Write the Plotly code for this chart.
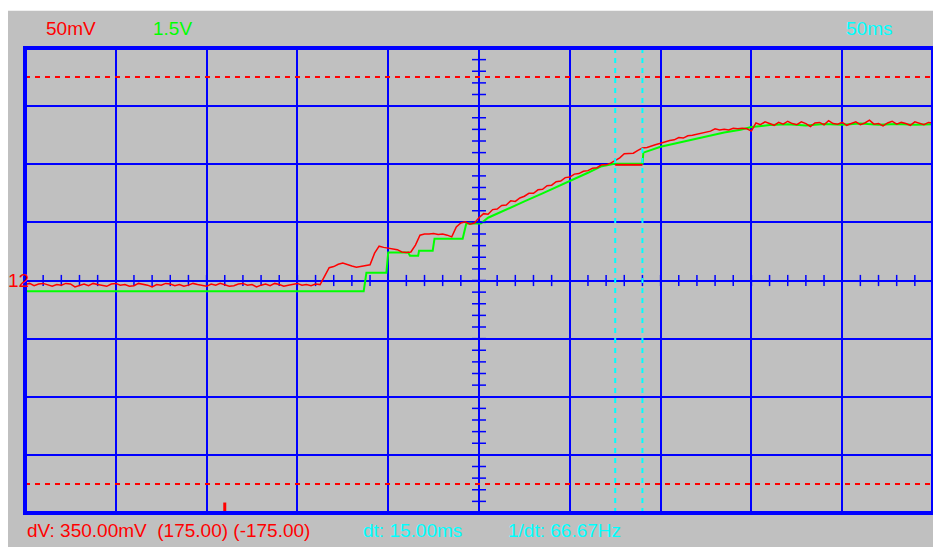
import plotly.graph_objects as go

# ---------------------------------------------------------------------------
# Valori letti dallo schermo dell'oscilloscopio
# ---------------------------------------------------------------------------

time_per_div_ms = 50          # 10 divisioni orizzontali
ch1_mv_per_div = 50           # canale rosso
ch2_v_per_div = 1.5           # canale verde

# canale 1 (rosso), un campione ogni 2.5 ms (righe da 25 ms)
ch1_mv = [
    -3.5, -2.5, -4.5, -3, -2.5, -4, -5, -3.5, -4, -2.5,
    -3, -5.5, -4, -3, -4.5, -2.5, -3.5, -4.5, -5, -3,
    -2.5, -4, -3.5, -5, -4.5, -2.5, -3, -4, -5.5, -3.5,
    -4, -2.5, -3, -4.5, -3.5, -5, -4, -2.5, -3.5, -4.5,
    -5, -3, -4, -2.5, -3.5, -5, -4.5, -3, -2.5, -4,
    -3.5, -5.5, -4, -3, -4.5, -2.5, -3.5, -5, -4, -3,
    -2.5, -4, -3.5, -4.5, -3, -3.5, 4, 11, 12, 14,
    15, 13.5, 12.5, 11.5, 12, 12.5, 13.5, 23.5, 29.5, 28.5,
    28, 27, 26.5, 24.5, 24, 24.5, 30.5, 39, 40, 40,
    40.5, 39.5, 40, 39, 37.5, 46, 49.5, 50.5, 48.5, 49.5,
    54, 57.5, 57, 61, 61.5, 64.5, 65, 68.5, 68, 71,
    72.5, 75, 75, 78, 78.5, 81.5, 82, 85, 85.5, 88.5,
    89, 91.5, 92, 94, 94.5, 96.5, 97, 99.5, 99.5, 101,
    103, 105.5, 109, 109, 109.5, 112, 114, 114.5, 116, 117,
    118, 119.5, 120.5, 121, 123, 122.5, 124.5, 125, 126, 126.5,
    128, 128.5, 130.5, 129.5, 130, 129.5, 131, 130.5, 131, 130.5,
    128.5, 135.5, 134, 136.5, 135, 133.5, 136, 134.5, 137, 135,
    134, 136.5, 135, 132.5, 135.5, 136, 134, 137.5, 135, 134.5,
    136, 133.5, 135, 136.5, 134, 135.5, 138, 134.5, 135, 133,
    135.5, 137, 134.5, 136, 135, 133.5, 136.5, 135, 134, 136,
    135.5,
]
ch1_t_ms = [2.5 * i for i in range(len(ch1_mv))]

# tratto rosso orizzontale fra i due cursori
ch1_hold_t_ms = [325, 340]
ch1_hold_mv = [99.5, 99.5]

# canale 2 (verde), vertici della scalinata
ch2_t_ms = [
    0, 186.5, 188, 199, 200, 211, 212, 216.5, 217, 224.5, 225.5, 241, 243, 251,
    255, 265, 275, 285, 295, 300, 310, 317, 324.5, 340, 340.5, 350, 360, 372, 385,
    394, 400, 410, 420, 430, 440, 450, 460, 470, 480, 490, 500,
]
ch2_v = [
    -0.28, -0.28, 0.2, 0.2, 0.72, 0.72, 0.64, 0.64, 0.77, 0.77, 1.08, 1.08, 1.47, 1.47,
    1.62, 1.82, 2.04, 2.25, 2.46, 2.55, 2.78, 2.94, 3.01, 3.01, 3.30, 3.45, 3.56, 3.68,
    3.82, 3.89, 3.96, 4.01, 4.03, 4.0, 4.04, 4.02, 4.05, 4.02, 4.04, 4.02, 4.03,
]

# livelli dei cursori orizzontali (mV) e verticali (ms)
dv_levels_mv = [175, -175]
dt_cursors_ms = [325, 340]
trigger_t_ms = 110

# testi dello schermo
label_ch1 = "50mV"
label_ch2 = "1.5V"
label_time = "50ms"
label_marker = "12"
label_dv = "dV: 350.00mV  (175.00) (-175.00)"
label_dt = "dt: 15.00ms"
label_freq = "1/dt: 66.67Hz"

# ---------------------------------------------------------------------------
# Colori
# ---------------------------------------------------------------------------

GREY = "#C0C0C0"
BLUE = "#0000FF"
RED = "#FF0000"
GREEN = "#00FF00"
CYAN = "#00FFFF"

x_range = [0, 10 * time_per_div_ms]
ch1_range = [-4 * ch1_mv_per_div, 4 * ch1_mv_per_div]
ch2_range = [-4 * ch2_v_per_div, 4 * ch2_v_per_div]

fig = go.Figure()

# verde sull'asse principale, rosso sull'asse sovrapposto (disegnato sopra)
fig.add_trace(go.Scatter(
    x=ch2_t_ms, y=ch2_v, yaxis="y", mode="lines",
    line=dict(color=GREEN, width=2),
))

# tacche sugli assi centrali (1/5 di divisione)
minor_x = [i * time_per_div_ms / 5 for i in range(51)]
minor_y = [i * ch1_mv_per_div / 5 - 4 * ch1_mv_per_div for i in range(41)]
fig.add_trace(go.Scatter(
    x=minor_x, y=[0] * len(minor_x), yaxis="y2", mode="markers", hoverinfo="skip",
    marker=dict(symbol="line-ns", size=8, line=dict(width=1.5, color=BLUE)),
))
fig.add_trace(go.Scatter(
    x=[x_range[1] / 2] * len(minor_y), y=minor_y, yaxis="y2", mode="markers",
    hoverinfo="skip",
    marker=dict(symbol="line-ew", size=10, line=dict(width=1.5, color=BLUE)),
))

fig.add_trace(go.Scatter(
    x=ch1_hold_t_ms, y=ch1_hold_mv, yaxis="y2", mode="lines",
    line=dict(color=RED, width=2),
))
fig.add_trace(go.Scatter(
    x=ch1_t_ms, y=ch1_mv, yaxis="y2", mode="lines",
    line=dict(color=RED, width=1.5),
))

shapes = []
# sfondo grigio dello strumento
shapes.append(dict(
    type="rect", xref="paper", yref="paper", x0=-0.02, x1=1.05, y0=-0.12, y1=1.08,
    fillcolor=GREY, line=dict(width=0), layer="below",
))
for lvl in dv_levels_mv:
    shapes.append(dict(
        type="line", xref="paper", yref="y2", x0=0, x1=1, y0=lvl, y1=lvl,
        line=dict(color=RED, width=2, dash="5px,5px"),
    ))
for tc in dt_cursors_ms:
    shapes.append(dict(
        type="line", xref="x", yref="paper", x0=tc, x1=tc, y0=0, y1=1,
        line=dict(color=CYAN, width=2, dash="5px,5px"),
    ))
shapes.append(dict(
    type="line", xref="x", yref="y2", x0=trigger_t_ms, x1=trigger_t_ms,
    y0=-191, y1=-199, line=dict(color=RED, width=3),
))
# cornice del reticolo
shapes.append(dict(
    type="rect", xref="paper", yref="paper", x0=0, x1=1, y0=0, y1=1,
    line=dict(color=BLUE, width=4),
))


def label(text, x, y, color, yref="paper"):
    return dict(
        text=text, x=x, y=y, xref="paper", yref=yref, xanchor="left", yanchor="middle",
        showarrow=False, font=dict(family="Liberation Sans", size=19, color=color),
    )


annotations = [
    label(label_ch1, 0.021, 1.043, RED),
    label(label_ch2, 0.139, 1.043, GREEN),
    label(label_time, 0.902, 1.043, CYAN),
    label(label_marker, -0.021, 0, RED, yref="y2"),
    label(label_dv, 0.0, -0.037, RED),
    label(label_dt, 0.370, -0.037, CYAN),
    label(label_freq, 0.530, -0.037, CYAN),
]

axis_common = dict(
    showgrid=True, gridcolor=BLUE, gridwidth=2, zeroline=False,
    showticklabels=False, ticks="", showline=False, fixedrange=True,
)

fig.update_layout(
    width=941, height=547,
    margin=dict(l=17, r=16, t=40, b=42),
    paper_bgcolor="white", plot_bgcolor=GREY,
    showlegend=False,
    xaxis=dict(range=x_range, dtick=time_per_div_ms, tick0=0, **axis_common),
    yaxis=dict(range=ch2_range, dtick=ch2_v_per_div, tick0=0, **axis_common),
    yaxis2=dict(range=ch1_range, overlaying="y", visible=False, fixedrange=True),
    shapes=shapes,
    annotations=annotations,
)

fig.write_html("out.html")
